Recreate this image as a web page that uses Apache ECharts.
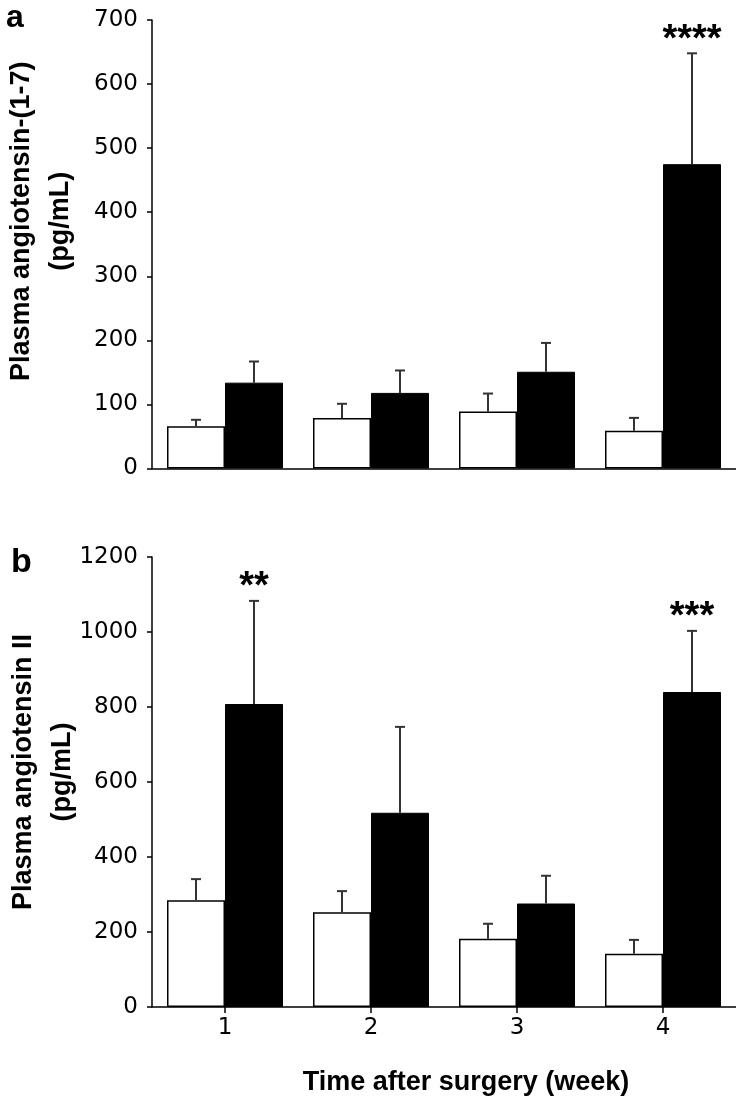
<!DOCTYPE html>
<html>
<head>
<meta charset="utf-8">
<script src="https://cdn.jsdelivr.net/npm/echarts@6/dist/echarts.min.js"></script>
<style>
html,body{margin:0;padding:0;background:#fff;}
#chart{width:736px;height:1097px;}
</style>
</head>
<body>
<div id="chart"></div>
<script>
// ---- data ----
const weeks = ['1', '2', '3', '4'];
const aControl = [66, 79, 89, 59];
const aControlErr = [10, 22, 28, 20];
const aTreated = [134, 118, 151, 475];
const aTreatedErr = [33, 35, 45, 173];
const aSig = ['', '', '', '****'];

const bControl = [285, 253, 182, 142];
const bControlErr = [56, 56, 40, 37];
const bTreated = [808, 518, 276, 840];
const bTreatedErr = [275, 229, 74, 163];
const bSig = ['**', '', '', '***'];

const aTicks = {min: 0, max: 700, interval: 100};
const bTicks = {min: 0, max: 1200, interval: 200};

// ---- style ----
const BAR_W = 58;
const NUM_FONT = 'DejaVu Sans';
const TXT_FONT = 'Liberation Sans';

function errSeries(vals, errs, sig, gridIdx, side) {
  return {
    type: 'custom',
    xAxisIndex: gridIdx,
    yAxisIndex: gridIdx,
    z: 5,
    silent: true,
    data: vals.map((v, i) => [i, v, errs[i]]),
    encode: {x: 0, y: 1},
    renderItem: function (params, api) {
      const i = api.value(0);
      const v = api.value(1);
      const e = api.value(2);
      const s = sig[i] || '';
      const base = api.coord([i, v]);
      const top = api.coord([i, v + e]);
      const x = base[0] + side * BAR_W / 2;
      const children = [
        {type: 'line', shape: {x1: x, y1: base[1], x2: x, y2: top[1]},
         style: {stroke: '#333', lineWidth: 2}},
        {type: 'line', shape: {x1: x - 5, y1: top[1], x2: x + 5, y2: top[1]},
         style: {stroke: '#333', lineWidth: 2}}
      ];
      if (s) {
        children.push({type: 'text', x: x, y: top[1] + 6,
          style: {text: s, fill: '#000', font: 'bold 38px "Liberation Sans"',
                  align: 'center', verticalAlign: 'bottom'}});
      }
      return {type: 'group', children: children};
    }
  };
}

function barSeries(name, vals, gridIdx, fill) {
  return {
    name: name,
    type: 'bar',
    xAxisIndex: gridIdx,
    yAxisIndex: gridIdx,
    barWidth: BAR_W,
    barGap: '0%',
    data: vals,
    itemStyle: fill === 'white'
      ? {color: '#fff', borderColor: '#000', borderWidth: 1.5}
      : {color: '#000', borderColor: '#000', borderWidth: 1}
  };
}

const yAxisBase = {
  type: 'value',
  axisLine: {show: true, lineStyle: {color: '#000', width: 1.5}},
  axisTick: {show: true, inside: false, length: 5, lineStyle: {color: '#000', width: 1.5}},
  splitLine: {show: false},
  axisLabel: {color: '#000', fontSize: 23, fontFamily: NUM_FONT, margin: 14,
              formatter: function (v) { return String(v); }},
  nameLocation: 'middle',
  nameRotate: 90,
  nameMoveOverlap: false
};

const chart = echarts.init(document.getElementById('chart'), null, {renderer: 'canvas'});
chart.setOption({
  backgroundColor: '#fff',
  animation: false,
  title: [
    {text: 'a', left: 6, top: 2, padding: 0,
     textStyle: {fontSize: 32, fontWeight: 'bold', fontFamily: TXT_FONT, color: '#000'}},
    {text: 'b', left: 11, top: 546, padding: 0,
     textStyle: {fontSize: 34, fontWeight: 'bold', fontFamily: TXT_FONT, color: '#000'}}
  ],
  grid: [
    {left: 152, right: 0, top: 20, height: 448.5, containLabel: false, outerBoundsMode: 'none'},
    {left: 152, right: 0, top: 557, height: 450, containLabel: false, outerBoundsMode: 'none'}
  ],
  xAxis: [
    {type: 'category', gridIndex: 0, data: weeks,
     axisLine: {show: true, lineStyle: {color: '#000', width: 1.5}},
     axisTick: {show: false}, axisLabel: {show: false}},
    {type: 'category', gridIndex: 1, data: weeks,
     axisLine: {show: true, lineStyle: {color: '#000', width: 1.5}},
     axisTick: {show: true, alignWithLabel: true, length: 6, lineStyle: {color: '#000', width: 1.5}},
     axisLabel: {color: '#000', fontSize: 23, fontFamily: NUM_FONT, margin: 10},
     name: 'Time after surgery (week)', nameLocation: 'middle', nameGap: 62,
     nameMoveOverlap: false,
     nameTextStyle: {fontSize: 27, fontWeight: 'bold', fontFamily: TXT_FONT, color: '#000',
                     padding: [0, 0, 0, 44]}}
  ],
  yAxis: [
    Object.assign({}, yAxisBase, {gridIndex: 0, min: aTicks.min, max: aTicks.max, interval: aTicks.interval,
      name: 'Plasma angiotensin-(1-7)\n(pg/mL)', nameGap: 72,
      nameTextStyle: {fontSize: 27, fontWeight: 'bold', fontFamily: TXT_FONT, color: '#000',
                      lineHeight: 39, align: 'center', padding: [0, 0, 0, 46]}}),
    Object.assign({}, yAxisBase, {gridIndex: 1, min: bTicks.min, max: bTicks.max, interval: bTicks.interval,
      name: 'Plasma angiotensin II\n(pg/mL)', nameGap: 70,
      nameTextStyle: {fontSize: 27, fontWeight: 'bold', fontFamily: TXT_FONT, color: '#000',
                      lineHeight: 39, align: 'center', padding: [0, 0, 0, 20]}})
  ],
  series: [
    barSeries('Control', aControl, 0, 'white'),
    barSeries('Treated', aTreated, 0, 'black'),
    errSeries(aControl, aControlErr, ['', '', '', ''], 0, -1),
    errSeries(aTreated, aTreatedErr, aSig, 0, 1),
    barSeries('Control', bControl, 1, 'white'),
    barSeries('Treated', bTreated, 1, 'black'),
    errSeries(bControl, bControlErr, ['', '', '', ''], 1, -1),
    errSeries(bTreated, bTreatedErr, bSig, 1, 1)
  ]
});
</script>
</body>
</html>
